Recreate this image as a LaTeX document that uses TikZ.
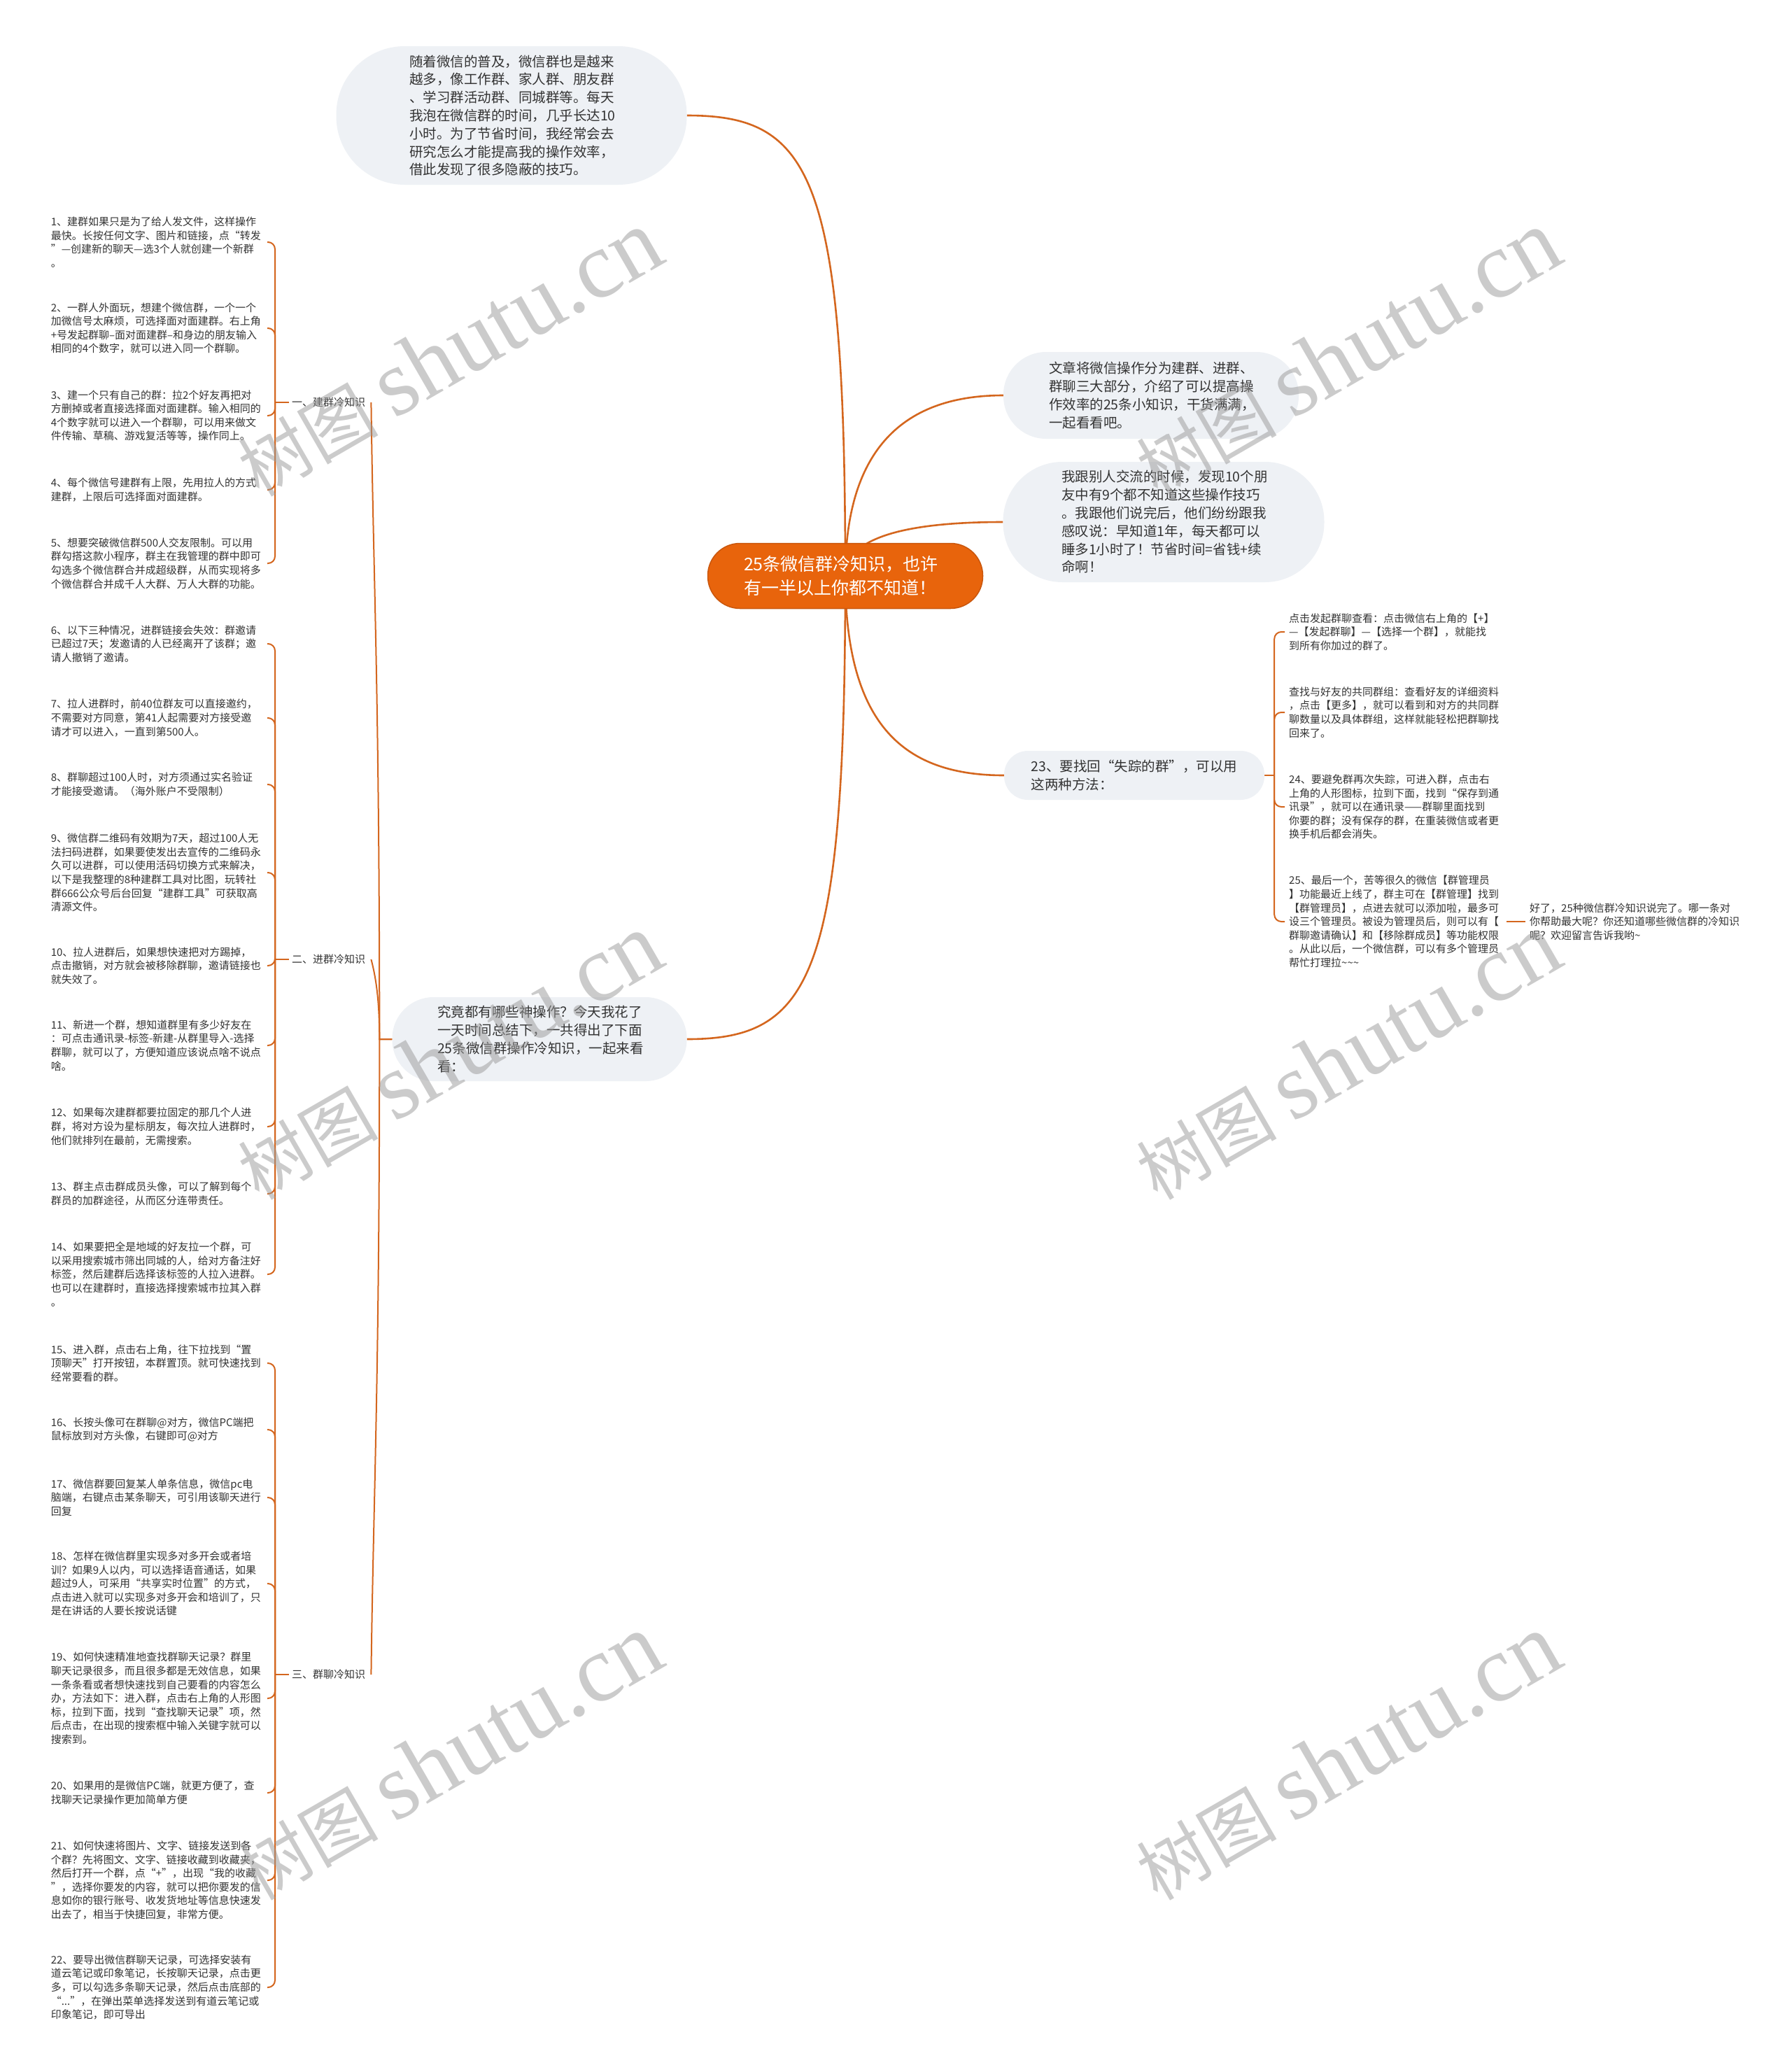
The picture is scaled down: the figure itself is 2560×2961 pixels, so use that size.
\documentclass[tikz,border=0pt]{standalone}
\usepackage{fontspec}
\setmainfont{Noto Sans CJK SC}
\newfontfamily\wmlatin{Liberation Serif}
\definecolor{conn}{HTML}{D4661E}
\definecolor{ctfill}{HTML}{E8640C}
\definecolor{ctdraw}{HTML}{C9560C}
\definecolor{bub}{HTML}{EEF1F5}
\definecolor{txt}{HTML}{333333}
\pgfdeclarelayer{bg}
\pgfdeclarelayer{fg}
\pgfsetlayers{bg,main,fg}
\begin{document}
\begin{tikzpicture}[x=1pt,y=-1pt,
  conn/.style={draw=conn, line width=2pt},
  mainconn/.style={draw=conn, line width=2.6pt},
  leaf/.style={anchor=east, text width=305pt, align=left, inner xsep=4pt, inner ysep=0pt, font=\fontsize{15}{19.6}\selectfont, text=txt},
  rleaf/.style={anchor=west, text width=305pt, align=left, inner xsep=6pt, inner ysep=0pt, font=\fontsize{15}{19.6}\selectfont, text=txt},
  cat/.style={anchor=west, inner xsep=4pt, inner ysep=2pt, font=\fontsize{15}{18}\selectfont, text=txt},
  bubble/.style={fill=bub, align=left, text=txt, font=\fontsize{19.5}{25.8}\selectfont, inner sep=0pt},
  wm/.style={rotate=30, opacity=0.5, text=black!40, inner sep=0pt},
]
\useasboundingbox (0,0) rectangle (2560,2961);

% ---------- central and bubble nodes ----------
\node[fill=ctfill, draw=ctdraw, line width=1.5pt, rounded corners=46pt, minimum width=393pt, minimum height=93pt,
      text=white, align=left, text width=290pt, inner sep=0pt, font=\fontsize{25}{34}\selectfont] (ct) at (1208,823)
  {25条微信群冷知识，也许\\有一半以上你都不知道！};

\node[bubble, minimum width=501pt, minimum height=198pt, rounded corners=98pt, text width=292pt] (tb) at (731,165)
  {随着微信的普及，微信群也是越来\\越多，像工作群、家人群、朋友群\\、学习群活动群、同城群等。每天\\我泡在微信群的时间，几乎长达10\\小时。为了节省时间，我经常会去\\研究怎么才能提高我的操作效率，\\借此发现了很多隐蔽的技巧。};

\node[bubble, minimum width=422pt, minimum height=124pt, rounded corners=61pt, text width=292pt] (b1) at (1645,565)
  {文章将微信操作分为建群、进群、\\群聊三大部分，介绍了可以提高操\\作效率的25条小知识，干货满满，\\一起看看吧。};

\node[bubble, minimum width=459pt, minimum height=172pt, rounded corners=85pt, text width=292pt] (b2) at (1663,746)
  {我跟别人交流的时候，发现10个朋\\友中有9个都不知道这些操作技巧\\。我跟他们说完后，他们纷纷跟我\\感叹说：早知道1年，每天都可以\\睡多1小时了！节省时间=省钱+续\\命啊！};

\node[bubble, minimum width=372pt, minimum height=70pt, rounded corners=34pt, text width=295pt] (n23) at (1621,1108)
  {23、要找回“失踪的群”，可以用\\这两种方法：};

\node[bubble, minimum width=421pt, minimum height=120pt, rounded corners=59pt, text width=292pt] (qj) at (771,1485)
  {究竟都有哪些神操作？今天我花了\\一天时间总结下，一共得出了下面\\25条微信群操作冷知识，一起来看\\看：};

% ---------- category labels ----------
\node[cat] (l1) at (413,575) {一、建群冷知识};
\node[cat] (l2) at (413,1371) {二、进群冷知识};
\node[cat] (l3) at (413,2393) {三、群聊冷知识};

% ---------- left leaves ----------
\node[leaf] (i1) at (382,346) {1、建群如果只是为了给人发文件，这样操作\\最快。长按任何文字、图片和链接，点“转发\\”—创建新的聊天—选3个人就创建一个新群\\。};
\node[leaf] (i2) at (382,469) {2、一群人外面玩，想建个微信群，一个一个\\加微信号太麻烦，可选择面对面建群。右上角\\+号发起群聊–面对面建群–和身边的朋友输入\\相同的4个数字，就可以进入同一个群聊。};
\node[leaf] (i3) at (382,594) {3、建一个只有自己的群：拉2个好友再把对\\方删掉或者直接选择面对面建群。输入相同的\\4个数字就可以进入一个群聊，可以用来做文\\件传输、草稿、游戏复活等等，操作同上。};
\node[leaf] (i4) at (382,700) {4、每个微信号建群有上限，先用拉人的方式\\建群，上限后可选择面对面建群。};
\node[leaf] (i5) at (382,805) {5、想要突破微信群500人交友限制。可以用\\群勾搭这款小程序，群主在我管理的群中即可\\勾选多个微信群合并成超级群，从而实现将多\\个微信群合并成千人大群、万人大群的功能。};

\node[leaf] (i6) at (382,920) {6、以下三种情况，进群链接会失效：群邀请\\已超过7天；发邀请的人已经离开了该群；邀\\请人撤销了邀请。};
\node[leaf] (i7) at (382,1026) {7、拉人进群时，前40位群友可以直接邀约，\\不需要对方同意，第41人起需要对方接受邀\\请才可以进入，一直到第500人。};
\node[leaf] (i8) at (382,1121) {8、群聊超过100人时，对方须通过实名验证\\才能接受邀请。（海外账户不受限制）};
\node[leaf] (i9) at (382,1247) {9、微信群二维码有效期为7天，超过100人无\\法扫码进群，如果要使发出去宣传的二维码永\\久可以进群，可以使用活码切换方式来解决，\\以下是我整理的8种建群工具对比图，玩转社\\群666公众号后台回复“建群工具”可获取高\\清源文件。};
\node[leaf] (i10) at (382,1380) {10、拉人进群后，如果想快速把对方踢掉，\\点击撤销，对方就会被移除群聊，邀请链接也\\就失效了。};
\node[leaf] (i11) at (382,1494) {11、新进一个群，想知道群里有多少好友在\\：可点击通讯录-标签-新建-从群里导入-选择\\群聊，就可以了，方便知道应该说点啥不说点\\啥。};
\node[leaf] (i12) at (382,1610) {12、如果每次建群都要拉固定的那几个人进\\群，将对方设为星标朋友，每次拉人进群时，\\他们就排列在最前，无需搜索。};
\node[leaf] (i13) at (382,1706) {13、群主点击群成员头像，可以了解到每个\\群员的加群途径，从而区分连带责任。};
\node[leaf] (i14) at (382,1821) {14、如果要把全是地域的好友拉一个群，可\\以采用搜索城市筛出同城的人，给对方备注好\\标签，然后建群后选择该标签的人拉入进群。\\也可以在建群时，直接选择搜索城市拉其入群\\。};

\node[leaf] (i15) at (382,1948) {15、进入群，点击右上角，往下拉找到“置\\顶聊天”打开按钮，本群置顶。就可快速找到\\经常要看的群。};
\node[leaf] (i16) at (382,2043) {16、长按头像可在群聊@对方，微信PC端把\\鼠标放到对方头像，右键即可@对方};
\node[leaf] (i17) at (382,2140) {17、微信群要回复某人单条信息，微信pc电\\脑端，右键点击某条聊天，可引用该聊天进行\\回复};
\node[leaf] (i18) at (382,2263) {18、怎样在微信群里实现多对多开会或者培\\训？如果9人以内，可以选择语音通话，如果\\超过9人，可采用“共享实时位置”的方式，\\点击进入就可以实现多对多开会和培训了，只\\是在讲话的人要长按说话键};
\node[leaf] (i19) at (382,2427) {19、如何快速精准地查找群聊天记录？群里\\聊天记录很多，而且很多都是无效信息，如果\\一条条看或者想快速找到自己要看的内容怎么\\办，方法如下：进入群，点击右上角的人形图\\标，拉到下面，找到“查找聊天记录”项，然\\后点击，在出现的搜索框中输入关键字就可以\\搜索到。};
\node[leaf] (i20) at (382,2562) {20、如果用的是微信PC端，就更方便了，查\\找聊天记录操作更加简单方便};
\node[leaf] (i21) at (382,2687) {21、如何快速将图片、文字、链接发送到各\\个群？先将图文、文字、链接收藏到收藏夹，\\然后打开一个群，点“+”，出现“我的收藏\\”，选择你要发的内容，就可以把你要发的信\\息如你的银行账号、收发货地址等信息快速发\\出去了，相当于快捷回复，非常方便。};
\node[leaf] (i22) at (382,2840) {22、要导出微信群聊天记录，可选择安装有\\道云笔记或印象笔记，长按聊天记录，点击更\\多，可以勾选多条聊天记录，然后点击底部的\\“...”，在弹出菜单选择发送到有道云笔记或\\印象笔记，即可导出};

% ---------- right leaves ----------
\node[rleaf] (r1) at (1836,903) {点击发起群聊查看：点击微信右上角的【+】\\—【发起群聊】—【选择一个群】，就能找\\到所有你加过的群了。};
\node[rleaf] (r2) at (1836,1018) {查找与好友的共同群组：查看好友的详细资料\\，点击【更多】，就可以看到和对方的共同群\\聊数量以及具体群组，这样就能轻松把群聊找\\回来了。};
\node[rleaf] (r3) at (1836,1153) {24、要避免群再次失踪，可进入群，点击右\\上角的人形图标，拉到下面，找到“保存到通\\讯录”，就可以在通讯录——群聊里面找到\\你要的群；没有保存的群，在重装微信或者更\\换手机后都会消失。};
\node[rleaf] (r4) at (1836,1317) {25、最后一个，苦等很久的微信【群管理员\\】功能最近上线了，群主可在【群管理】找到\\【群管理员】，点进去就可以添加啦，最多可\\设三个管理员。被设为管理员后，则可以有【\\群聊邀请确认】和【移除群成员】等功能权限\\。从此以后，一个微信群，可以有多个管理员\\帮忙打理拉\textasciitilde\textasciitilde\textasciitilde};
\node[rleaf] (fin) at (2180,1317) {好了，25种微信群冷知识说完了。哪一条对\\你帮助最大呢？你还知道哪些微信群的冷知识\\呢？欢迎留言告诉我哟\textasciitilde};

% ---------- connectors ----------
\begin{pgfonlayer}{bg}
  \fill[white] (0,0) rectangle (2560,2961);
  \draw[mainconn] (ct.center) .. controls (1208,250) and (1160,165) .. (tb.east);
  \draw[mainconn] (ct.center) .. controls (1208,651) and (1283,565) .. (b1.west);
  \draw[mainconn] (ct.center) .. controls (1208,772) and (1283,746) .. (b2.west);
  \draw[mainconn] (ct.center) .. controls (1208,1040) and (1295,1108) .. (n23.west);
  \draw[mainconn] (ct.center) .. controls (1208,1396) and (1160,1485) .. (qj.east);

  \draw[conn] (qj.west) -- ++(-18,0) .. controls +(0,-500) and +(3,250) .. ([xshift=4pt]l1.east);
  \draw[conn] (qj.west) -- ++(-18,0) .. controls +(0,-50) and +(8,30) .. ([xshift=4pt]l2.east);
  \draw[conn] (qj.west) -- ++(-18,0) .. controls +(0,500) and +(3,-250) .. ([xshift=4pt]l3.east);

  \draw[conn] (l1.west) -- ++(-20,0);
  \foreach \n in {i1,i2,i3,i4,i5}
    \draw[conn, rounded corners=10pt] ([xshift=-20pt]l1.west) |- (\n.east);
  \draw[conn] (l2.west) -- ++(-20,0);
  \foreach \n in {i6,i7,i8,i9,i10,i11,i12,i13,i14}
    \draw[conn, rounded corners=10pt] ([xshift=-20pt]l2.west) |- (\n.east);
  \draw[conn] (l3.west) -- ++(-20,0);
  \foreach \n in {i15,i16,i17,i18,i19,i20,i21,i22}
    \draw[conn, rounded corners=10pt] ([xshift=-20pt]l3.west) |- (\n.east);

  \draw[conn] (n23.east) -- ++(14,0);
  \foreach \n in {r1,r2,r3,r4}
    \draw[conn, rounded corners=10pt] ([xshift=14pt]n23.east) |- (\n.west);
  \draw[conn] (r4.east) -- (fin.west);
\end{pgfonlayer}

% ---------- watermarks ----------
\begin{pgfonlayer}{fg}
  \node[wm] (wm1) at (642,505) {\fontsize{100}{100}\selectfont 树图\ {\wmlatin\fontsize{135}{135}\selectfont shutu.cn}};
  \node[wm] (wm2) at (1926,505) {\fontsize{100}{100}\selectfont 树图\ {\wmlatin\fontsize{135}{135}\selectfont shutu.cn}};
  \node[wm] (wm3) at (642,1510) {\fontsize{100}{100}\selectfont 树图\ {\wmlatin\fontsize{135}{135}\selectfont shutu.cn}};
  \node[wm] (wm4) at (1926,1510) {\fontsize{100}{100}\selectfont 树图\ {\wmlatin\fontsize{135}{135}\selectfont shutu.cn}};
  \node[wm] (wm5) at (642,2511) {\fontsize{100}{100}\selectfont 树图\ {\wmlatin\fontsize{135}{135}\selectfont shutu.cn}};
  \node[wm] (wm6) at (1926,2511) {\fontsize{100}{100}\selectfont 树图\ {\wmlatin\fontsize{135}{135}\selectfont shutu.cn}};
\end{pgfonlayer}
\end{tikzpicture}
\end{document}
